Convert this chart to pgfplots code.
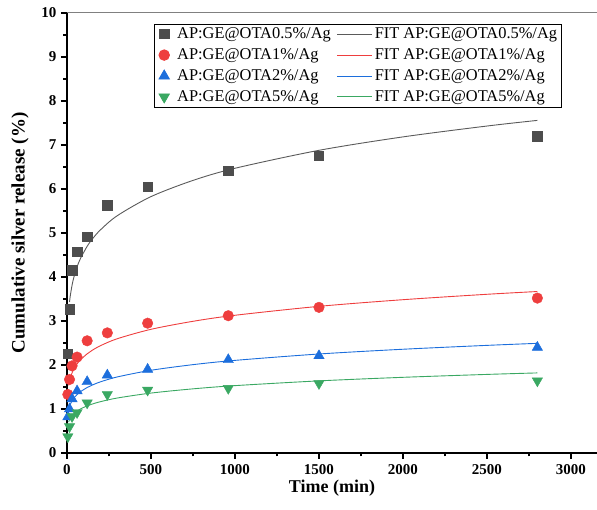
\documentclass[border=0pt]{standalone}
\usepackage{pgfplots}
\pgfplotsset{compat=1.18}
\usepackage{fontspec}
\setmainfont{Liberation Serif}
\definecolor{cblk}{RGB}{77,77,77}
\definecolor{cfblk}{RGB}{90,90,90}
\definecolor{cred}{RGB}{238,62,62}
\definecolor{cblu}{RGB}{28,110,220}
\definecolor{cgrn}{RGB}{58,168,98}
\newcommand{\lf}{\fontsize{16.4}{19}\selectfont}
\pgfplotsset{
  markleg/.style={legend image code/.code={\path[draw=none] (0pt,0pt) -- (19pt,0pt); \draw[##1] plot coordinates {(8pt,0pt)};}},
  lineleg/.style={legend image code/.code={\draw[draw=#1, line width=0.9pt] (0pt,0pt) -- (35pt,0pt);}},
}
\begin{document}
\begin{tikzpicture}
\begin{axis}[
  name=ax,
  scale only axis,
  width=530pt, height=440pt,
  xmin=0, xmax=3155, ymin=0, ymax=10,
  axis x line*=bottom, axis y line*=left,
  axis line style={line width=1.2pt, -},
  xtick={0,500,...,3000}, ytick={0,1,...,10},
  minor x tick num=1, minor y tick num=1,
  tick align=outside,
  major tick length=6pt, minor tick length=3.5pt,
  every tick/.style={line width=1.2pt, black},
  /pgf/number format/assume math mode=true,
  /pgf/number format/1000 sep={},
  ticklabel style={font=\fontsize{15}{18}\selectfont\bfseries},
  xticklabel style={yshift=-2pt},
  yticklabel style={xshift=-1pt},
  xlabel={\textbf{Time (min)}},
  ylabel={\textbf{Cumulative silver release (\%)}},
  xlabel style={font=\fontsize{18}{21}\selectfont, yshift=2pt},
  ylabel style={font=\fontsize{19}{22}\selectfont, yshift=6pt},
  legend cell align=left,
  legend columns=2,
  legend style={at={(0.933,0.976)}, anchor=north east, draw=black, line width=0.8pt,
    inner xsep=2pt, inner ysep=2pt, row sep=4.5pt, font=\lf,
    /tikz/every even column/.append style={column sep=4pt}},
]
% AP:GE@OTA0.5%/Ag
\addplot[only marks, mark=square*, mark size=4.7pt, color=cblk, mark options={draw=cblk, fill=cblk}, markleg]
  coordinates {(5,2.25) (15,3.27) (30,4.15) (60,4.58) (120,4.91) (240,5.63) (480,6.05) (960,6.42) (1500,6.75) (2800,7.20)};
\addlegendentry{\lf AP:GE@OTA0.5\%/Ag}
\addplot[no marks, smooth, draw=cfblk, line width=0.9pt, lineleg=cfblk]
  coordinates {(15,3.432) (20,3.584) (30,3.811) (40,3.980) (60,4.231) (80,4.419) (120,4.698) (150,4.859) (200,5.074) (300,5.395) (500,5.827) (750,6.195) (1000,6.471) (1500,6.879) (2000,7.184) (2500,7.431) (2800,7.559)};
\addlegendentry{\lf FIT AP:GE@OTA0.5\%/Ag}
% AP:GE@OTA1%/Ag
\addplot[only marks, mark=*, mark size=5.3pt, color=cred, mark options={draw=cred, fill=cred}, markleg]
  coordinates {(5,1.33) (15,1.67) (30,1.98) (60,2.18) (120,2.55) (240,2.73) (480,2.95) (960,3.12) (1500,3.31) (2800,3.52)};
\addlegendentry{\lf AP:GE@OTA1\%/Ag}
\addplot[no marks, smooth, draw=cred, line width=0.9pt, lineleg=cred]
  coordinates {(10,1.535) (15,1.634) (20,1.709) (30,1.819) (40,1.902) (60,2.025) (80,2.117) (120,2.254) (150,2.334) (200,2.440) (300,2.598) (500,2.811) (750,2.993) (1000,3.130) (1500,3.333) (2000,3.484) (2500,3.607) (2800,3.670)};
\addlegendentry{\lf FIT AP:GE@OTA1\%/Ag}
% AP:GE@OTA2%/Ag
\addplot[only marks, mark=triangle*, mark size=6pt, color=cblu, mark options={draw=cblu, fill=cblu}, markleg]
  coordinates {(5,0.82) (15,1.00) (30,1.23) (60,1.41) (120,1.62) (240,1.77) (480,1.90) (960,2.12) (1500,2.21) (2800,2.40)};
\addlegendentry{\lf AP:GE@OTA2\%/Ag}
\addplot[no marks, smooth, draw=cblu, line width=0.9pt, lineleg=cblu]
  coordinates {(10,0.991) (15,1.059) (20,1.110) (30,1.186) (40,1.243) (60,1.329) (80,1.393) (120,1.488) (150,1.543) (200,1.618) (300,1.729) (500,1.880) (750,2.008) (1000,2.105) (1500,2.250) (2000,2.358) (2500,2.446) (2800,2.492)};
\addlegendentry{\lf FIT AP:GE@OTA2\%/Ag}
% AP:GE@OTA5%/Ag
\addplot[only marks, mark=triangle*, mark size=6pt, color=cgrn, mark options={draw=cgrn, fill=cgrn, rotate=180}, markleg]
  coordinates {(5,0.37) (15,0.60) (30,0.83) (60,0.92) (120,1.14) (240,1.33) (480,1.43) (960,1.47) (1500,1.58) (2800,1.64)};
\addlegendentry{\lf AP:GE@OTA5\%/Ag}
\addplot[no marks, smooth, draw=cgrn, line width=0.9pt, lineleg=cgrn]
  coordinates {(10,0.705) (15,0.755) (20,0.792) (30,0.848) (40,0.890) (60,0.953) (80,1.001) (120,1.071) (150,1.112) (200,1.167) (300,1.250) (500,1.362) (750,1.458) (1000,1.531) (1500,1.639) (2000,1.720) (2500,1.786) (2800,1.820)};
\addlegendentry{\lf FIT AP:GE@OTA5\%/Ag}
\draw[gray, line width=1pt] (rel axis cs:0,1) -- (rel axis cs:1,1);
\end{axis}
\pgfresetboundingbox
\path (ax.south west) ++(-67pt,-57pt) rectangle ([yshift=13pt]ax.north east);
\end{tikzpicture}
\end{document}
